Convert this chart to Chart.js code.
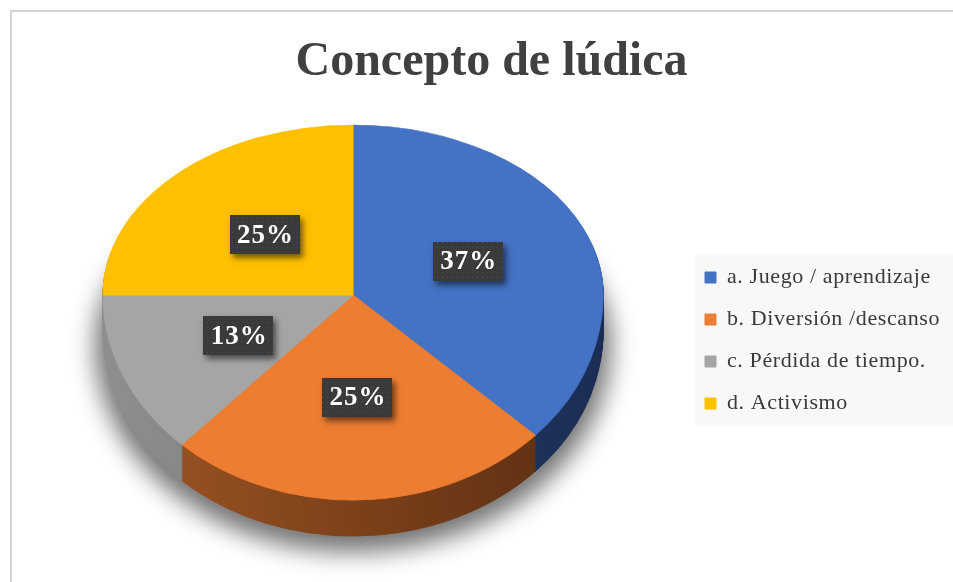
<!DOCTYPE html>
<html><head><meta charset="utf-8">
<script src="https://cdn.jsdelivr.net/npm/chart.js@4.4.0/dist/chart.umd.min.js"></script>
<style>
html,body{margin:0;padding:0;background:#fff;overflow:hidden;}
#wrap{position:relative;width:953px;height:582px;overflow:hidden;}
#frame{position:absolute;left:10px;top:10px;width:1000px;height:1000px;border-left:2px solid #d4d4d4;border-top:2px solid #d4d4d4;}
#c{position:absolute;left:0;top:0;}
</style></head><body>
<div id="wrap"><div id="frame"></div><canvas id="c" width="953" height="582"></canvas></div>
<script>
// ---- data ----
const categories = ['a. Juego / aprendizaje', 'b. Diversión /descanso', 'c. Pérdida de tiempo.', 'd. Activismo'];
const percentValues = [37, 25, 13, 25];
const percentLabels = ['37%', '25%', '13%', '25%'];
const chartTitle = 'Concepto de lúdica';

// ---- styles ----
const topColors = ['#4472C4', '#ED7D31', '#A5A5A5', '#FFC000'];
const sideColors = [['#2c4b88', '#1b2d54'], ['#a05624', '#592d12'], ['#8e8e8e', '#676767'], ['#a07a00', '#7a5c00']];
const PROJ = { cx: 353, cy: 295, rx: 250, kTop: 0.68, kBot: 0.82, depth: 36 };
const LEGEND_W = 268;
const SERIF = '"Liberation Serif","Times New Roman",serif';

function withHalf(ctx, chart, a0, half, dy, fn) {
  const r = a0.outerRadius, sx = PROJ.rx / r;
  const k = half === 'top' ? PROJ.kTop : PROJ.kBot;
  const lineY = PROJ.cy + dy;
  ctx.save();
  ctx.beginPath();
  if (half === 'top') ctx.rect(0, -10, chart.width, lineY + 10);
  else ctx.rect(0, lineY, chart.width, chart.height - lineY + 10);
  ctx.clip();
  ctx.translate(PROJ.cx, lineY);
  ctx.scale(sx, sx * k);
  ctx.translate(-a0.x, -a0.y);
  fn();
  ctx.restore();
}

function drawArcFill(ctx, arc, fill) {
  const orig = arc.options;
  arc.options = Object.assign({}, orig, { backgroundColor: fill, borderColor: fill, borderWidth: 1 });
  arc.draw(ctx);
  arc.options = orig;
}

let dotPattern = null;
function getPattern(ctx) {
  if (dotPattern) return dotPattern;
  const p = document.createElement('canvas'); p.width = 5; p.height = 5;
  const pc = p.getContext('2d');
  pc.fillStyle = '#3a3a3a'; pc.fillRect(0, 0, 5, 5);
  pc.fillStyle = '#4d4d4d'; pc.fillRect(2, 2, 1, 1);
  dotPattern = ctx.createPattern(p, 'repeat');
  return dotPattern;
}

const pie3d = {
  id: 'pie3d',
  afterInit(chart) {
    const lg = chart.legend;
    if (!lg) return;
    const origFit = lg.fit.bind(lg);
    lg.fit = function () { origFit(); this.width = LEGEND_W; };
    const origDraw = lg.draw.bind(lg);
    lg.draw = function () {
      const c = this.ctx; c.save();
      try { c.letterSpacing = '0.6px'; } catch (e) {}
      origDraw(); c.restore();
    };
  },
  afterLayout(chart) {
    const lg = chart.legend;
    if (!lg) return;
    lg.top = chart.chartArea.top;
    lg.bottom = chart.chartArea.bottom;
  },
  beforeDraw(chart) {
    const ctx = chart.ctx, lg = chart.legend;
    ctx.save();
    ctx.fillStyle = '#f8f8f8';
    ctx.fillRect(lg.left + 10, 255, chart.width, 170);
    ctx.restore();
  },
  beforeDatasetsDraw(chart) {
    const ctx = chart.ctx;
    const arcs = chart.getDatasetMeta(0).data;
    const a0 = arcs[0];
    const r = a0.outerRadius;
    // soft shadow under the disc
    ctx.save();
    try { ctx.filter = 'blur(12px)'; } catch (e) {}
    ctx.fillStyle = 'rgba(0,0,0,0.55)';
    ctx.beginPath();
    const sy = PROJ.cy + PROJ.depth + 12;
    ctx.ellipse(PROJ.cx, sy, PROJ.rx + 8, PROJ.rx * PROJ.kTop, 0, Math.PI, Math.PI * 2);
    ctx.ellipse(PROJ.cx, sy, PROJ.rx + 8, PROJ.rx * PROJ.kBot + 4, 0, 0, Math.PI);
    ctx.closePath();
    ctx.fill();
    ctx.restore();
    // extruded sides
    for (let d = PROJ.depth; d >= 1; d--) {
      ['top', 'bot'].forEach(h => withHalf(ctx, chart, a0, h, d, () => {
        arcs.forEach((arc, i) => {
          const g = ctx.createLinearGradient(a0.x - r, 0, a0.x + r, 0);
          g.addColorStop(0, sideColors[i][0]);
          g.addColorStop(1, sideColors[i][1]);
          drawArcFill(ctx, arc, g);
        });
      }));
    }
    // top face
    ['top', 'bot'].forEach(h => withHalf(ctx, chart, a0, h, 0, () => {
      arcs.forEach(arc => arc.draw(ctx));
    }));
    // data labels
    ctx.save();
    ctx.font = 'bold 27px ' + SERIF;
    try { ctx.letterSpacing = '1px'; } catch (e) {}
    arcs.forEach((arc, i) => {
      const mid = (arc.startAngle + arc.endAngle) / 2;
      const rr = arc.outerRadius * 0.5;
      const nx = Math.cos(mid) * rr, ny = Math.sin(mid) * rr;
      const sx = PROJ.rx / arc.outerRadius;
      const k = ny < 0 ? PROJ.kTop : PROJ.kBot;
      const px = PROJ.cx + nx * sx, py = PROJ.cy + ny * sx * k;
      const txt = percentLabels[i];
      const tw = ctx.measureText(txt).width;
      const bw = Math.round(tw + 13), bh = 39;
      const bx = Math.round(px - bw / 2), by = Math.round(py - bh / 2);
      ctx.save();
      ctx.shadowColor = 'rgba(0,0,0,0.55)'; ctx.shadowBlur = 6; ctx.shadowOffsetX = 3; ctx.shadowOffsetY = 4;
      ctx.fillStyle = '#3a3a3a';
      ctx.fillRect(bx, by, bw, bh);
      ctx.restore();
      ctx.fillStyle = getPattern(ctx);
      ctx.fillRect(bx, by, bw, bh);
      ctx.fillStyle = '#ffffff';
      ctx.textAlign = 'left'; ctx.textBaseline = 'middle';
      ctx.fillText(txt, px - tw / 2 + 1, py + 1);
    });
    ctx.restore();
    return false;
  }
};

new Chart(document.getElementById('c'), {
  type: 'pie',
  data: {
    labels: categories,
    datasets: [{ data: percentValues, backgroundColor: topColors, borderColor: topColors, borderWidth: 1 }]
  },
  options: {
    responsive: false,
    animation: false,
    layout: { padding: { left: 30, right: 0, top: 0, bottom: 0 } },
    plugins: {
      title: {
        display: true, text: chartTitle, color: '#404040',
        font: { family: SERIF, size: 48, weight: 'bold', lineHeight: 1.2 },
        padding: { top: 33.6, bottom: 7.8 }
      },
      legend: {
        position: 'right',
        labels: { boxWidth: 11, boxHeight: 11, padding: 20, color: '#3a3a3a', font: { family: SERIF, size: 22 } }
      },
      tooltip: { enabled: false }
    }
  },
  plugins: [pie3d]
});
</script>
</body></html>
